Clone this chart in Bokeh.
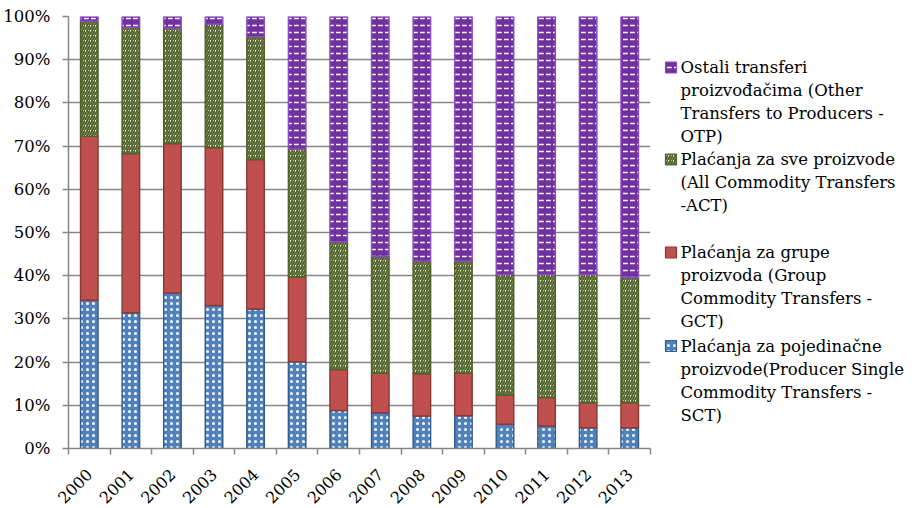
from math import pi
from bokeh.plotting import figure
from bokeh.layouts import row
from bokeh.models import ColumnDataSource, FixedTicker, PrintfTickFormatter, Range1d
from bokeh.embed import file_html
from bokeh.resources import INLINE

years = [str(y) for y in range(2000, 2014)]
# shares in percent (bottom to top)
sct = [34.3, 31.4, 36.0, 33.1, 32.3, 20.1, 8.8, 8.3, 7.5, 7.6, 5.6, 5.2, 4.8, 4.8]
gct = [38.0, 36.9, 34.6, 36.5, 34.6, 19.6, 9.5, 9.1, 9.8, 9.8, 6.7, 6.6, 5.8, 5.8]
act = [26.6, 29.2, 26.7, 28.6, 28.4, 29.6, 29.5, 27.0, 26.1, 26.0, 28.0, 28.5, 29.7, 29.0]
otp = [1.1, 2.5, 2.7, 1.8, 4.7, 30.7, 52.2, 55.6, 56.6, 56.6, 59.7, 59.7, 59.7, 60.4]

series_keys = ["sct", "gct", "act", "otp"]
legend_order = ["otp", "act", "gct", "sct"]
legend_text = {
    "otp": ["Ostali transferi", "proizvođačima (Other", "Transfers to Producers -", "OTP)"],
    "act": ["Plaćanja za sve proizvode", "(All Commodity Transfers", "-ACT)"],
    "gct": ["Plaćanja za grupe", "proizvoda (Group", "Commodity Transfers -", "GCT)"],
    "sct": ["Plaćanja za pojedinačne", "proizvode(Producer Single", "Commodity Transfers -", "SCT)"],
}

FONT = "DejaVu Serif"
FS_TICK = "16.5px"
FS_XTICK = "16px"
FS_LEG = "16.5px"
TOP, BOTTOM, FH = 16, 58, 432
H = TOP + FH + BOTTOM
style = {
    "sct": dict(fill_color="#4F81BD", line_color="#385D8A", hatch_pattern=".", hatch_color="white", hatch_scale=6, hatch_weight=1.5),
    "gct": dict(fill_color="#C0504D", line_color="#8C3836", hatch_pattern=" ", hatch_color="white", hatch_scale=6, hatch_weight=1),
    "act": dict(fill_color="white", line_color="#4F6228", hatch_pattern="/", hatch_color="#4F6228", hatch_scale=5, hatch_weight=2),
    "otp": dict(fill_color="#7030A0", line_color="#8A4CC0", hatch_pattern='"', hatch_color="white", hatch_scale=7, hatch_weight=1.5),
}

x = list(range(len(years)))
src = ColumnDataSource(dict(x=x, sct=sct, gct=gct, act=act, otp=otp))

p = figure(frame_width=582, frame_height=FH, output_backend="svg", toolbar_location=None,
           title=None, x_range=Range1d(-0.5, len(years) - 0.5), y_range=Range1d(0, 100),
           min_border_left=65, min_border_top=TOP, min_border_bottom=BOTTOM, min_border_right=3)
p.outline_line_color = None

p.vbar_stack(series_keys, x="x", width=0.42, source=src, line_width=1.5,
             fill_color=[style[k]["fill_color"] for k in series_keys],
             line_color=[style[k]["line_color"] for k in series_keys],
             hatch_pattern=[style[k]["hatch_pattern"] for k in series_keys],
             hatch_color=[style[k]["hatch_color"] for k in series_keys],
             hatch_scale=[style[k]["hatch_scale"] for k in series_keys],
             hatch_weight=[style[k]["hatch_weight"] for k in series_keys])

p.xgrid.visible = False
p.ygrid.grid_line_color = "#868686"
p.ygrid.grid_line_width = 1.5
p.ygrid.ticker = FixedTicker(ticks=list(range(0, 101, 10)))
p.ygrid.level = "underlay"

p.yaxis.ticker = FixedTicker(ticks=list(range(0, 101, 10)))
p.yaxis.formatter = PrintfTickFormatter(format="%d%%")
p.yaxis.axis_line_color = "#868686"
p.yaxis.axis_line_width = 1.5
p.yaxis.major_tick_line_color = "#868686"
p.yaxis.major_tick_line_width = 1.5
p.yaxis.major_tick_in = 0
p.yaxis.major_tick_out = 6
p.yaxis.minor_tick_line_color = None
p.yaxis.major_label_standoff = 12
p.yaxis.major_label_text_font = FONT
p.yaxis.major_label_text_font_size = FS_TICK
p.yaxis.major_label_text_color = "black"

p.xaxis.ticker = FixedTicker(ticks=x, minor_ticks=[i - 0.5 for i in range(len(years) + 1)])
p.xaxis.major_label_overrides = {i: y for i, y in zip(x, years)}
p.xaxis.axis_line_color = "#868686"
p.xaxis.axis_line_width = 1.5
p.xaxis.major_tick_line_color = None
p.xaxis.major_tick_in = 0
p.xaxis.major_tick_out = 0
p.xaxis.minor_tick_line_color = "#868686"
p.xaxis.minor_tick_line_width = 1.5
p.xaxis.minor_tick_in = 0
p.xaxis.minor_tick_out = 6
p.xaxis.major_label_orientation = pi / 4
p.xaxis.major_label_standoff = 17
p.xaxis.major_label_text_font = FONT
p.xaxis.major_label_text_font_size = FS_XTICK
p.xaxis.major_label_text_color = "black"

# legend panel (pixel coordinates, y measured from the top)
LW = 254
lg = figure(frame_width=LW, frame_height=H, output_backend="svg", toolbar_location=None,
            title=None, x_axis_location=None, y_axis_location=None,
            x_range=Range1d(0, LW), y_range=Range1d(H, 0),
            min_border=0, min_border_left=0, min_border_right=0, min_border_top=0, min_border_bottom=0)
lg.grid.visible = False
lg.outline_line_color = None

item_top = [51.0, 143.0, 236.0, 329.5]
line_step = 23.0
for k, y0 in zip(legend_order, item_top):
    st = style[k]
    lg.rect(x=[17.5], y=[y0], width=11, height=11, line_width=1.2, **st)
    lines = legend_text[k]
    lg.text(x=[27] * len(lines), y=[y0 + i * line_step for i in range(len(lines))], text=lines,
            text_font={"value": FONT}, text_font_size={"value": FS_LEG},
            text_baseline="middle", text_align="left", text_color="black")

layout = row(p, lg)
open("out.html", "w").write(file_html(layout, INLINE))
